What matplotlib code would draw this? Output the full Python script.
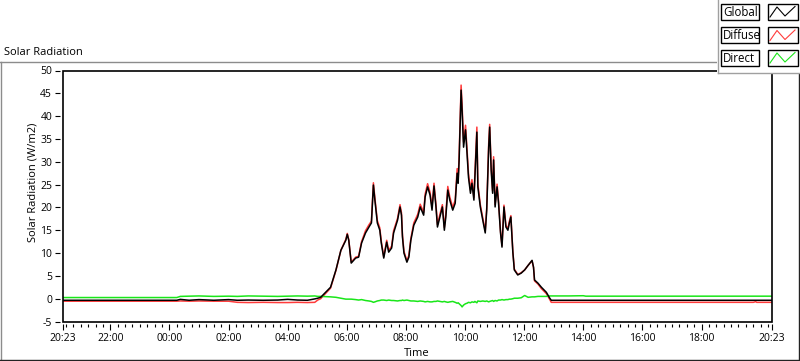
import matplotlib
matplotlib.use("Agg")
import matplotlib.pyplot as plt
from matplotlib.patches import Rectangle
from matplotlib.lines import Line2D
import numpy as np

plt.rcParams['font.family'] = ['Open Sans', 'DejaVu Sans']
plt.rcParams['axes.unicode_minus'] = False

# clock time of each sample (day rolls over after midnight)
times = ["20:23", "22:00", "00:15", "00:22", "00:40", "01:00", "01:30", "02:00",
         "02:18", "02:40", "03:10", "03:40", "04:00", "04:20", "04:40", "04:55",
         "05:01", "05:07", "05:27", "05:38", "05:48", "05:58", "06:01", "06:04",
         "06:09", "06:18", "06:24", "06:30", "06:38", "06:45", "06:50", "06:54",
         "06:57", "07:02", "07:07", "07:10", "07:15", "07:21", "07:25", "07:31",
         "07:35", "07:43", "07:48", "07:51", "07:53", "07:56", "08:02", "08:06",
         "08:10", "08:16", "08:24", "08:29", "08:36", "08:39", "08:44", "08:49",
         "08:53", "08:57", "09:01", "09:04", "09:09", "09:14", "09:18", "09:21",
         "09:25", "09:29", "09:35", "09:40", "09:44", "09:46", "09:48", "09:52",
         "09:54", "09:57", "10:01", "10:04", "10:07", "10:11", "10:14", "10:18",
         "10:20", "10:24", "10:26", "10:31", "10:36", "10:41", "10:44", "10:48",
         "10:50", "10:53", "10:56", "10:58", "11:01", "11:05", "11:08", "11:12",
         "11:15", "11:19", "11:23", "11:27", "11:30", "11:33", "11:37", "11:40",
         "11:47", "11:54", "12:01", "12:08", "12:16", "12:19", "12:21", "12:28",
         "12:35", "12:45", "12:52", "12:55", "13:30", "14:00", "14:05", "19:45",
         "19:50", "19:52", "20:23"]

global_wm2 = [-0.35, -0.35, -0.35, -0.15, -0.35, -0.2, -0.35, -0.2,
              -0.35, -0.3, -0.35, -0.3, -0.15, -0.3, -0.35, -0.05,
              0.1, 0.3, 2.5, 6.3, 10.6, 12.8, 14.1, 12.8,
              7.8, 8.9, 9.1, 12.2, 14.4, 15.7, 16.6, 24.9,
              21.6, 16.6, 15.0, 12.2, 8.9, 12.4, 10.2, 11.1,
              14.4, 17.2, 20.1, 18.3, 13.5, 10.0, 8.0, 9.1,
              12.8, 16.1, 17.9, 20.1, 18.3, 22.3, 24.5, 22.7,
              19.4, 24.7, 20.1, 15.7, 17.9, 20.1, 15.0, 17.9,
              23.8, 21.6, 19.4, 20.9, 27.5, 25.3, 30.4, 45.7,
              41.3, 33.2, 37.0, 31.9, 26.6, 23.1, 25.3, 21.6,
              26.6, 36.5, 24.5, 20.1, 17.2, 14.4, 19.4, 33.2,
              37.6, 28.2, 23.1, 30.4, 20.1, 24.5, 20.9, 14.4,
              11.3, 20.1, 15.7, 15.0, 16.6, 17.9, 10.2, 6.3,
              5.2, 5.6, 6.3, 7.3, 8.4, 6.9, 4.1, 3.4,
              2.5, 1.4, 0.1, -0.35, -0.35, -0.35, -0.35, -0.35,
              -0.35, -0.35, -0.35]

diffuse_wm2 = [-0.55, -0.55, -0.55, -0.5, -0.55, -0.5, -0.55, -0.55,
               -0.8, -0.85, -0.8, -0.85, -0.85, -0.8, -0.85, -0.8,
               -0.3, 0.0, 2.3, 6.2, 10.6, 13.0, 14.3, 12.9,
               8.0, 9.1, 9.3, 12.5, 14.9, 16.2, 17.0, 25.4,
               22.1, 17.1, 15.5, 12.6, 9.2, 12.8, 10.6, 11.5,
               14.9, 17.6, 20.6, 18.8, 13.9, 10.4, 8.3, 9.5,
               13.2, 16.6, 18.5, 20.7, 18.9, 22.9, 25.2, 23.3,
               20.1, 25.3, 20.6, 16.2, 18.5, 20.6, 15.6, 18.6,
               24.6, 22.3, 20.0, 21.6, 28.5, 26.0, 31.3, 46.8,
               42.5, 34.3, 38.0, 32.8, 27.4, 23.8, 26.1, 22.2,
               27.3, 37.6, 25.2, 20.6, 17.7, 14.8, 19.9, 34.0,
               38.2, 28.9, 23.6, 31.1, 20.6, 25.1, 21.4, 14.8,
               11.6, 20.5, 16.0, 15.4, 17.0, 18.2, 10.4, 6.5,
               5.3, 5.7, 6.3, 7.3, 8.3, 6.8, 3.9, 3.2,
               2.2, 1.1, -0.2, -0.8, -0.8, -0.8, -0.8, -0.8,
               -0.65, -0.8, -0.8]

direct_wm2 = [0.25, 0.25, 0.25, 0.5, 0.55, 0.6, 0.5, 0.55,
              0.5, 0.6, 0.55, 0.5, 0.55, 0.6, 0.55, 0.6,
              0.5, 0.5, 0.4, 0.3, 0.1, -0.1, -0.1, -0.1,
              -0.1, -0.2, -0.3, -0.2, -0.4, -0.5, -0.6, -0.8,
              -0.7, -0.5, -0.4, -0.3, -0.3, -0.4, -0.3, -0.4,
              -0.4, -0.5, -0.4, -0.4, -0.3, -0.4, -0.3, -0.4,
              -0.5, -0.5, -0.6, -0.5, -0.6, -0.7, -0.6, -0.7,
              -0.7, -0.6, -0.6, -0.5, -0.6, -0.7, -0.6, -0.7,
              -0.8, -0.7, -0.6, -0.8, -1.0, -0.9, -1.1, -1.5,
              -1.8, -1.4, -1.1, -1.0, -0.8, -0.9, -0.7, -0.8,
              -0.6, -0.9, -0.5, -0.6, -0.5, -0.6, -0.5, -0.7,
              -0.6, -0.5, -0.4, -0.6, -0.4, -0.5, -0.3, -0.3,
              -0.2, -0.3, -0.2, -0.2, -0.1, -0.1, 0.0, 0.1,
              0.1, 0.2, 0.7, 0.3, 0.4, 0.4, 0.4, 0.5,
              0.5, 0.5, 0.6, 0.6, 0.6, 0.65, 0.55, 0.55,
              0.55, 0.55, 0.55]

tick_labels = ["20:23", "22:00", "00:00", "02:00", "04:00", "06:00", "08:00",
               "10:00", "12:00", "14:00", "16:00", "18:00", "20:23"]

START = 20 * 60 + 23


def to_hours(clock_list):
    """minutes since 20:23, rolling over midnight, returned in hours"""
    out = []
    day, prev = 0, -1
    for c in clock_list:
        m = int(c[:2]) * 60 + int(c[3:])
        if prev >= 0 and m < prev:
            day += 1
        if prev >= 0 and m == START and day == 0:
            day += 1
        prev = m
        out.append((m + day * 1440 - START) / 60)
    return np.array(out)


x = to_hours(times)
major = to_hours(tick_labels)
minor = (np.arange(START // 15 + 1, START // 15 + 97) * 15 - START) / 60
minor = minor[minor < 24]

W, H = 800, 361
fig = plt.figure(figsize=(W / 100, H / 100), dpi=100)


def fx(px):
    return px / W


def fy(py):
    return 1 - py / H


# LabVIEW control frame
fig.add_artist(Line2D([fx(0), fx(717)], [fy(61.5)] * 2, color='#8c8c8c', lw=1))
fig.add_artist(Line2D([fx(0.5)] * 2, [fy(61.5), fy(360)], color='#8c8c8c', lw=1))
fig.add_artist(Line2D([fx(0), fx(800)], [fy(360.2)] * 2, color='#222222', lw=1))
fig.add_artist(Line2D([fx(798.5)] * 2, [fy(73), fy(360)], color='#222222', lw=1))

fig.text(fx(4), fy(55), "Solar Radiation", fontsize=8, va='baseline', ha='left')

ax = fig.add_axes([fx(62.5), fy(321.5), (772 - 62.5) / W, (321.5 - 70.5) / H])
ax.plot(x, diffuse_wm2, color='#ff3b3b', lw=1.1)
ax.plot(x, direct_wm2, color='#19e619', lw=1.1)
ax.plot(x, global_wm2, color='black', lw=1.1)

ax.set_xlim(0, 24)
ax.set_ylim(-5, 50)
ax.set_yticks(np.arange(-5, 51, 5))
ax.set_xticks(major)
ax.set_xticklabels(tick_labels)
ax.set_xticks(minor, minor=True)

for s in ax.spines.values():
    s.set_visible(False)
ax.spines['left'].set_position(('outward', 2))
ax.spines['bottom'].set_position(('outward', 2))
ax.add_patch(Rectangle((0, 0), 1, 1, transform=ax.transAxes, fill=False,
                       ec='black', lw=1.2, clip_on=False, zorder=5))

ax.tick_params(axis='y', length=3.5, width=0.8, pad=2, labelsize=7.5)
ax.tick_params(axis='x', which='major', length=4.5, width=0.8, pad=2, labelsize=7.5)
ax.tick_params(axis='x', which='minor', length=2.5, width=0.8)

fig.text(fx(32.7), fy(182.5), "Solar Radiation (W/m2)", rotation=90, fontsize=8,
         ha='center', va='center')
fig.text(fx(416.5), fy(354), "Time", fontsize=8, ha='center', va='center')

# legend panel in the top right corner
fig.add_artist(Rectangle((fx(717), fy(73)), 83 / W, 73 / H, transform=fig.transFigure,
                         fc='white', ec='none', zorder=10))
fig.add_artist(Line2D([fx(717.5)] * 2, [fy(0), fy(73)], color='#a0a0a0', lw=1, zorder=11))
fig.add_artist(Line2D([fx(717.5), fx(800)], [fy(72.5)] * 2, color='#a0a0a0', lw=1, zorder=11))

legend_names = ["Global", "Diffuse", "Direct"]
legend_colors = ['black', '#ff3b3b', '#19e619']
legend_tops = [4, 27.5, 50]
for name, col, top in zip(legend_names, legend_colors, legend_tops):
    h = 15.5
    fig.add_artist(Rectangle((fx(721), fy(top + h)), 38 / W, h / H, transform=fig.transFigure,
                             fc='white', ec='black', lw=1, zorder=12))
    fig.text(fx(723), fy(top + h / 2 + 0.5), name, fontsize=8.3, ha='left', va='center',
             zorder=13)
    fig.add_artist(Rectangle((fx(768), fy(top + h)), 29.5 / W, h / H, transform=fig.transFigure,
                             fc='white', ec='black', lw=1, zorder=12))
    fig.add_artist(Line2D([fx(770), fx(777), fx(785), fx(795)],
                          [fy(top + 13), fy(top + 3), fy(top + 12), fy(top + 2.5)],
                          color=col, lw=0.8, zorder=13))

fig.savefig("out.png", dpi=100)
